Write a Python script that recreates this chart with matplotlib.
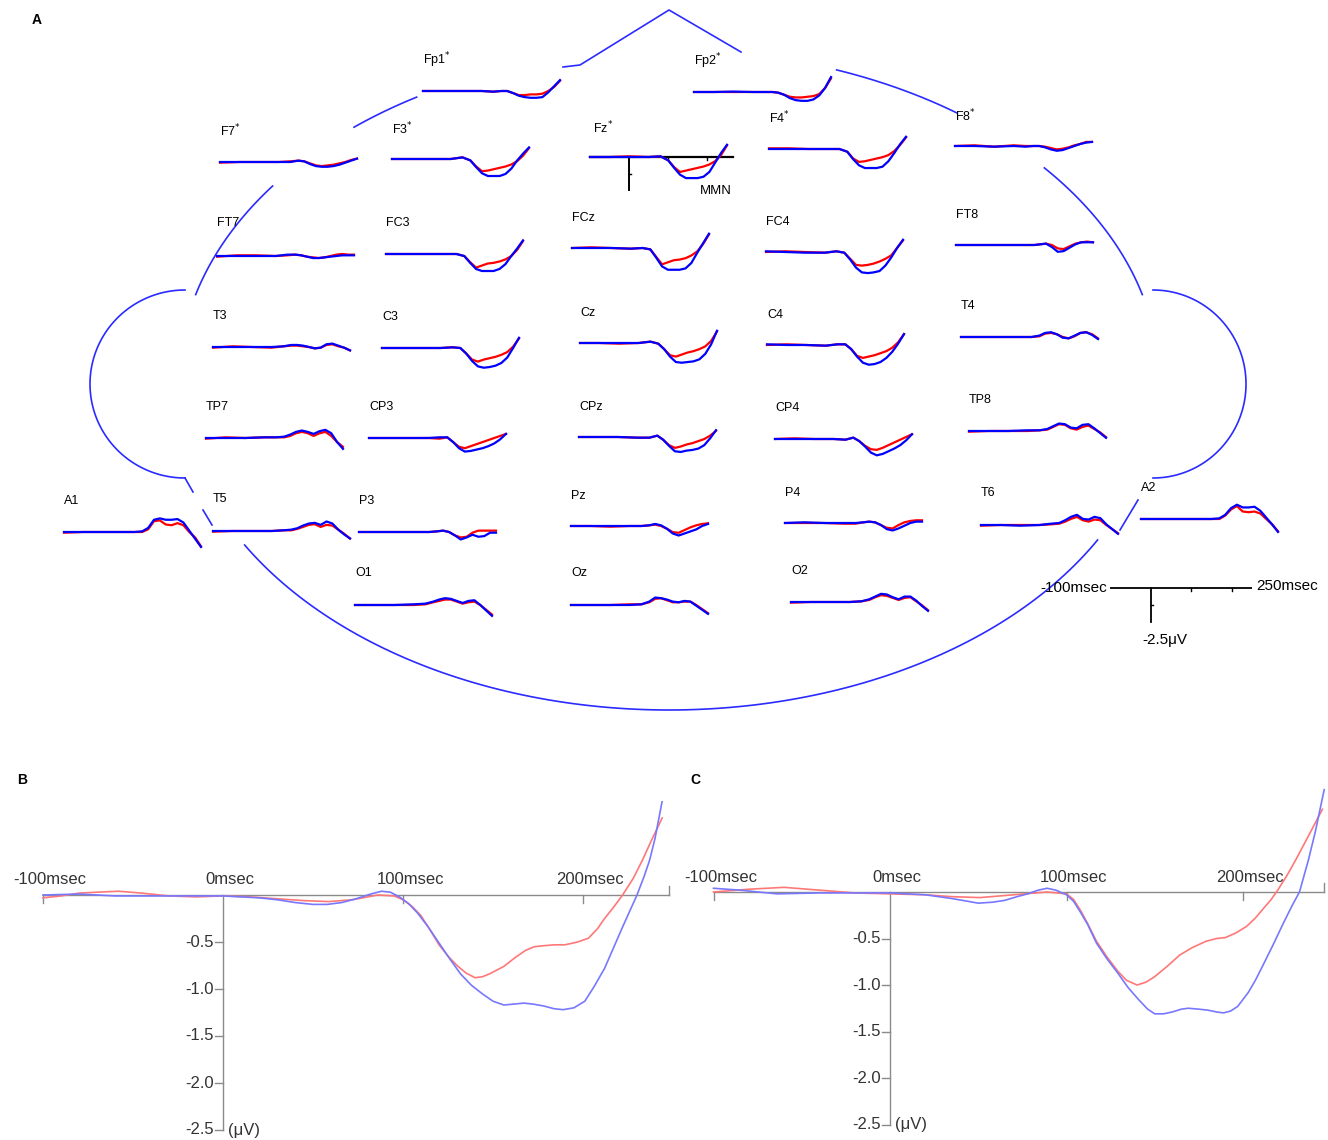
import numpy as np
import matplotlib
matplotlib.use("Agg")
import matplotlib.pyplot as plt

plt.rcParams['font.family'] = ['Liberation Sans', 'DejaVu Sans']

W, H = 1328, 1140
RED_A = '#ff0000'
BLUE_A = '#0000ff'
HEAD_C = '#2b2bff'
RED_B = '#ff7878'
BLUE_B = '#7878ff'
GRAY = '#8a8a8a'

# ---- panel A: topographic traces (uV), sampled at TOPO_T (msec) ----
TOPO_T = [-100, -50, 0, 50, 80, 100, 115, 130, 145, 160, 175, 190, 205, 220, 235, 250]

blue_waves = {
    'Fp1*': [0, 0, 0, 0, -0.05, 0, 0, -0.15, -0.35, -0.45, -0.5, -0.5, -0.45, -0.1, 0.35, 0.8],
    'Fp2*': [0, 0, 0.03, 0, 0, 0, -0.05, -0.2, -0.45, -0.6, -0.65, -0.65, -0.55, -0.25, 0.3, 1.1],
    'F7*': [0, 0, 0, 0, 0, 0.1, 0.05, -0.15, -0.3, -0.35, -0.35, -0.3, -0.2, -0.05, 0.1, 0.25],
    'F3*': [0, 0, 0, 0, 0.12, -0.1, -0.6, -1.05, -1.25, -1.25, -1.25, -1.1, -0.7, -0.1, 0.4, 0.85],
    'Fz*': [0, 0, 0, 0, 0.05, -0.25, -0.8, -1.3, -1.55, -1.55, -1.55, -1.45, -1.1, -0.4, 0.3, 0.9],
    'F4*': [0, 0, 0, 0, 0, -0.2, -0.75, -1.2, -1.4, -1.4, -1.4, -1.3, -0.9, -0.3, 0.35, 0.9],
    'F8*': [0, 0, -0.05, 0, -0.05, 0, 0, -0.1, -0.25, -0.35, -0.3, -0.15, 0.0, 0.15, 0.25, 0.3],
    'FT7': [0, 0, 0, 0, 0.1, 0.1, 0.05, -0.05, -0.15, -0.15, -0.1, -0.05, 0.0, 0.05, 0.05, 0.05],
    'FC3': [0, 0, 0, 0, 0, -0.15, -0.65, -1.1, -1.25, -1.25, -1.25, -1.1, -0.75, -0.15, 0.4, 1.0],
    'FCz': [0, 0, 0, -0.05, 0, -0.1, -0.7, -1.35, -1.6, -1.6, -1.6, -1.5, -1.1, -0.35, 0.35, 1.05],
    'FC4': [0.05, 0, -0.05, -0.05, 0.05, -0.05, -0.55, -1.15, -1.5, -1.55, -1.5, -1.4, -1.0, -0.4, 0.3, 0.9],
    'FT8': [0, 0, 0, 0, 0, 0, 0.05, 0.1, -0.15, -0.5, -0.45, -0.2, 0.05, 0.2, 0.2, 0.2],
    'T3': [0, 0, 0, 0, 0.05, 0.15, 0.15, 0.1, 0.0, -0.1, -0.05, 0.2, 0.25, 0.1, -0.05, -0.25],
    'C3': [0, 0, 0, 0, 0.05, 0, -0.4, -0.95, -1.35, -1.45, -1.4, -1.3, -1.1, -0.7, 0.0, 0.75],
    'Cz': [0, 0, 0, 0, 0.1, -0.05, -0.45, -1.0, -1.4, -1.45, -1.4, -1.35, -1.2, -0.8, -0.1, 0.9],
    'C4': [0.05, 0, 0, -0.05, 0.05, 0.05, -0.3, -0.85, -1.3, -1.45, -1.4, -1.25, -0.95, -0.5, 0.1, 0.8],
    'T4': [0, 0, 0, 0, 0, 0.1, 0.3, 0.35, 0.2, -0.05, -0.1, 0.1, 0.3, 0.35, 0.15, -0.15],
    'TP7': [0, 0, 0, 0.05, 0.05, 0.1, 0.25, 0.45, 0.55, 0.45, 0.3, 0.5, 0.6, 0.35, -0.3, -0.8],
    'CP3': [0, 0, 0, 0, 0.05, 0.05, -0.3, -0.75, -1.0, -0.95, -0.85, -0.75, -0.6, -0.4, -0.1, 0.3],
    'CPz': [0, 0, 0, -0.05, -0.05, 0.1, -0.2, -0.65, -1.05, -1.1, -1.0, -0.95, -0.85, -0.6, -0.1, 0.5],
    'CP4': [0, 0, 0, 0, -0.05, 0.1, -0.15, -0.55, -1.0, -1.2, -1.1, -0.9, -0.7, -0.45, -0.1, 0.35],
    'TP8': [0, 0, 0, 0.05, 0.05, 0.15, 0.35, 0.55, 0.5, 0.25, 0.2, 0.45, 0.5, 0.2, -0.15, -0.5],
    'A1': [0, 0, 0, 0, 0, 0.05, 0.3, 0.9, 1.0, 0.9, 0.9, 0.95, 0.7, 0.1, -0.5, -1.1],
    'T5': [0, 0, 0, 0, 0.05, 0.1, 0.2, 0.4, 0.55, 0.6, 0.45, 0.7, 0.55, 0.1, -0.25, -0.55],
    'P3': [0, 0, 0, 0, 0, 0.05, 0.1, 0.0, -0.25, -0.55, -0.4, -0.2, -0.35, -0.3, -0.05, -0.05],
    'Pz': [0, 0, 0, 0, 0, 0.05, 0.15, 0.05, -0.2, -0.55, -0.7, -0.55, -0.4, -0.25, 0.0, 0.15],
    'P4': [0, 0.05, 0, 0, 0, 0.05, 0.1, 0.05, -0.15, -0.45, -0.55, -0.4, -0.2, 0.0, 0.1, 0.1],
    'T6': [0, 0, -0.05, 0, 0.1, 0.15, 0.35, 0.6, 0.75, 0.45, 0.4, 0.6, 0.5, 0.05, -0.3, -0.65],
    'A2': [0, 0, 0, 0, 0, 0.05, 0.3, 0.8, 1.05, 0.85, 0.85, 0.9, 0.6, 0.1, -0.4, -0.95],
    'O1': [0, 0, 0, 0.05, 0.1, 0.25, 0.4, 0.5, 0.45, 0.3, 0.15, 0.3, 0.35, 0.0, -0.4, -0.8],
    'Oz': [0, 0, 0, 0, 0.05, 0.25, 0.55, 0.5, 0.4, 0.25, 0.2, 0.3, 0.25, -0.05, -0.35, -0.65],
    'O2': [0, 0, 0, 0, 0.05, 0.2, 0.4, 0.6, 0.55, 0.35, 0.2, 0.4, 0.4, 0.1, -0.3, -0.65],
}

red_waves = {
    'Fp1*': [0, 0, 0, 0, -0.05, 0, 0, -0.15, -0.3, -0.3, -0.25, -0.25, -0.2, 0.0, 0.3, 0.75],
    'Fp2*': [0, 0, 0, 0, 0, 0, -0.05, -0.2, -0.35, -0.4, -0.4, -0.35, -0.3, -0.15, 0.3, 1.0],
    'F7*': [-0.05, 0, 0, 0, 0.05, 0.1, 0.05, -0.1, -0.25, -0.3, -0.25, -0.2, -0.1, 0.0, 0.15, 0.25],
    'F3*': [0, 0, 0, 0, 0.12, -0.1, -0.55, -0.9, -0.85, -0.75, -0.65, -0.55, -0.4, -0.15, 0.25, 0.8],
    'Fz*': [0, 0, 0.05, 0, 0.05, -0.25, -0.75, -1.1, -1.0, -0.9, -0.8, -0.7, -0.55, -0.3, 0.15, 0.85],
    'F4*': [0.05, 0.05, 0, 0, 0, -0.2, -0.7, -0.95, -0.9, -0.8, -0.7, -0.6, -0.45, -0.15, 0.3, 0.85],
    'F8*': [0, 0.05, -0.05, 0.05, 0, 0, 0, -0.05, -0.15, -0.25, -0.2, -0.1, 0.05, 0.15, 0.3, 0.3],
    'FT7': [-0.05, 0.05, 0.05, 0, 0.05, 0.1, 0.05, -0.05, -0.1, -0.15, -0.1, 0.0, 0.1, 0.15, 0.1, 0.1],
    'FC3': [0, 0, 0, 0, 0, -0.15, -0.6, -1.0, -0.85, -0.7, -0.65, -0.55, -0.4, -0.15, 0.3, 0.95],
    'FCz': [0, 0.05, 0, -0.05, 0, -0.1, -0.65, -1.2, -1.05, -0.9, -0.85, -0.75, -0.55, -0.25, 0.3, 1.0],
    'FC4': [0, 0.05, 0, -0.05, 0.05, -0.05, -0.5, -0.95, -1.0, -0.95, -0.85, -0.7, -0.5, -0.25, 0.3, 0.85],
    'FT8': [0, 0, 0, 0, 0, 0, 0.05, 0.1, 0.0, -0.25, -0.3, -0.1, 0.1, 0.2, 0.25, 0.2],
    'T3': [-0.05, 0.05, 0, -0.05, 0.05, 0.1, 0.1, 0.05, 0.0, -0.1, -0.05, 0.15, 0.2, 0.05, -0.05, -0.25],
    'C3': [0, 0, 0, 0, 0.05, 0, -0.4, -0.85, -1.0, -0.85, -0.75, -0.65, -0.5, -0.3, 0.1, 0.7],
    'Cz': [0, 0, -0.05, 0, 0.1, -0.05, -0.45, -0.9, -1.0, -0.85, -0.7, -0.6, -0.45, -0.25, 0.15, 0.85],
    'C4': [0, 0.05, 0, -0.05, 0.05, 0.05, -0.3, -0.8, -0.95, -0.85, -0.75, -0.6, -0.45, -0.2, 0.2, 0.8],
    'T4': [0, 0, 0, 0, 0, 0.05, 0.25, 0.3, 0.2, 0.0, -0.1, 0.05, 0.3, 0.35, 0.2, -0.1],
    'TP7': [-0.05, 0.05, 0, 0.05, 0.05, 0.05, 0.15, 0.35, 0.45, 0.35, 0.15, 0.35, 0.45, 0.15, -0.3, -0.65],
    'CP3': [0, 0, 0, 0, -0.05, 0.05, -0.3, -0.65, -0.75, -0.6, -0.45, -0.3, -0.15, 0.0, 0.15, 0.3],
    'CPz': [0, 0, 0, -0.05, -0.05, 0.1, -0.2, -0.6, -0.8, -0.7, -0.55, -0.45, -0.3, -0.15, 0.1, 0.45],
    'CP4': [0, 0.05, 0, 0, -0.05, 0.1, -0.15, -0.5, -0.75, -0.8, -0.65, -0.45, -0.25, -0.05, 0.15, 0.35],
    'TP8': [-0.05, 0, 0, 0, 0.05, 0.1, 0.3, 0.5, 0.45, 0.2, 0.1, 0.3, 0.4, 0.15, -0.1, -0.45],
    'A1': [-0.05, 0, 0, 0, 0, 0, 0.2, 0.8, 0.85, 0.55, 0.5, 0.65, 0.5, 0.0, -0.4, -1.05],
    'T5': [-0.05, 0, 0, 0, 0.05, 0.05, 0.15, 0.3, 0.45, 0.5, 0.3, 0.45, 0.4, 0.1, -0.2, -0.55],
    'P3': [0, 0, 0, 0, 0, 0.05, 0.1, 0.0, -0.25, -0.4, -0.35, -0.05, 0.1, 0.1, 0.1, 0.1],
    'Pz': [0, 0, -0.05, 0, 0, 0.05, 0.1, 0.0, -0.2, -0.45, -0.5, -0.3, -0.1, 0.05, 0.15, 0.2],
    'P4': [0, 0, 0, -0.05, -0.05, 0.05, 0.1, 0.05, -0.15, -0.35, -0.4, -0.15, 0.05, 0.15, 0.2, 0.2],
    'T6': [-0.05, 0, 0, 0, 0.05, 0.1, 0.25, 0.45, 0.6, 0.35, 0.25, 0.4, 0.35, 0.0, -0.3, -0.6],
    'A2': [0, 0, 0, 0, 0, 0, 0.25, 0.7, 0.95, 0.55, 0.5, 0.55, 0.4, 0.0, -0.4, -0.9],
    'O1': [0, 0, 0, 0.0, 0.05, 0.2, 0.3, 0.4, 0.4, 0.25, 0.1, 0.2, 0.25, 0.0, -0.35, -0.7],
    'Oz': [0, 0, 0, 0.05, 0.05, 0.2, 0.45, 0.5, 0.35, 0.2, 0.2, 0.25, 0.25, 0.0, -0.3, -0.6],
    'O2': [-0.05, 0, 0, 0, 0.05, 0.15, 0.35, 0.5, 0.45, 0.3, 0.15, 0.3, 0.35, 0.05, -0.25, -0.6],
}

# layout of panel A in pixels: label (x, y) and trace start (x, baseline y)
label_pos = {
    'Fp1*': (423, 60), 'Fp2*': (694, 61), 'F7*': (220, 131), 'F3*': (392, 129),
    'Fz*': (593, 128), 'F4*': (769, 118), 'F8*': (955, 116), 'FT7': (217, 223),
    'FC3': (386, 223), 'FCz': (572, 218), 'FC4': (766, 222), 'FT8': (956, 215),
    'T3': (213, 316), 'C3': (382, 317), 'Cz': (580, 313), 'C4': (767, 315),
    'T4': (961, 306), 'TP7': (206, 407), 'CP3': (369, 407), 'CPz': (579, 407),
    'CP4': (775, 408), 'TP8': (969, 400), 'A1': (64, 501), 'T5': (213, 499),
    'P3': (359, 501), 'Pz': (571, 496), 'P4': (785, 493), 'T6': (981, 493),
    'A2': (1141, 488), 'O1': (355, 573), 'Oz': (571, 573), 'O2': (791, 571),
}
trace_pos = {
    'Fp1*': (423, 91), 'Fp2*': (694, 92), 'F7*': (220, 162), 'F3*': (392, 159),
    'Fz*': (590, 157), 'F4*': (769, 149), 'F8*': (955, 146), 'FT7': (217, 256),
    'FC3': (386, 254), 'FCz': (572, 248), 'FC4': (766, 252), 'FT8': (956, 245),
    'T3': (213, 347), 'C3': (382, 348), 'Cz': (580, 343), 'C4': (767, 345),
    'T4': (961, 337), 'TP7': (206, 438), 'CP3': (369, 438), 'CPz': (579, 437),
    'CP4': (775, 439), 'TP8': (969, 431), 'A1': (64, 532), 'T5': (213, 531),
    'P3': (359, 532), 'Pz': (571, 526), 'P4': (785, 523), 'T6': (981, 525),
    'A2': (1141, 519), 'O1': (355, 605), 'Oz': (571, 605), 'O2': (791, 602),
}

# ---- panels B and C: grand averages (msec, uV) ----
b_blue_t = [-100, -80, -60, -40, -20, 0, 10, 20, 30, 40, 50, 58, 66, 74, 82, 88, 93, 98, 103, 108,
            114, 120, 126, 132, 138, 144, 150, 156, 162, 167, 172, 178, 184, 189, 195, 201, 206, 212,
            217, 222, 226, 230, 234, 237, 240, 244]
b_blue_v = [0.0, 0.01, -0.01, -0.01, -0.01, -0.01, -0.02, -0.03, -0.05, -0.08, -0.1, -0.1, -0.08,
            -0.04, 0.01, 0.04, 0.03, -0.02, -0.09, -0.19, -0.34, -0.51, -0.68, -0.84, -0.96, -1.05,
            -1.13, -1.17, -1.16, -1.15, -1.16, -1.18, -1.21, -1.22, -1.2, -1.13, -0.98, -0.78, -0.56,
            -0.34, -0.17, 0.0, 0.2, 0.37, 0.6, 1.0]
b_red_t = [-100, -90, -80, -70, -58, -45, -30, -15, 0, 15, 30, 45, 59, 72, 86, 95, 100, 105, 110,
           115, 120, 125, 130, 135, 140, 144, 148, 152, 156, 162, 168, 173, 178, 184, 190, 197, 203,
           208, 212, 217, 222, 228, 233, 238, 244]
b_red_v = [-0.03, -0.01, 0.02, 0.03, 0.04, 0.02, -0.01, -0.02, -0.01, -0.02, -0.04, -0.06, -0.07,
           -0.05, 0.0, -0.01, -0.05, -0.12, -0.22, -0.37, -0.53, -0.65, -0.75, -0.83, -0.88, -0.87,
           -0.84, -0.8, -0.76, -0.67, -0.59, -0.55, -0.54, -0.53, -0.53, -0.5, -0.46, -0.36, -0.25,
           -0.13, 0.0, 0.18, 0.37, 0.58, 0.82]

c_blue_t = [-100, -85, -64, -40, -20, 0, 20, 35, 50, 58, 65, 72, 78, 84, 89, 94, 100, 104, 108, 112,
            117, 123, 129, 135, 141, 146, 150, 155, 160, 165, 169, 175, 180, 185, 189, 193, 197, 203,
            207, 211, 217, 223, 228, 232, 237, 241, 246]
c_blue_v = [0.04, 0.02, -0.02, -0.01, -0.01, -0.01, -0.03, -0.07, -0.12, -0.11, -0.09, -0.05, -0.02,
            0.02, 0.04, 0.02, -0.03, -0.1, -0.22, -0.35, -0.55, -0.72, -0.87, -1.03, -1.16, -1.26,
            -1.31, -1.31, -1.29, -1.26, -1.25, -1.26, -1.27, -1.29, -1.3, -1.28, -1.23, -1.08, -0.95,
            -0.8, -0.57, -0.33, -0.14, 0.0, 0.34, 0.65, 1.1]
c_red_t = [-100, -80, -60, -40, -20, 0, 20, 35, 51, 70, 89, 100, 104, 108, 112, 117, 123, 129, 134,
           140, 145, 150, 157, 164, 171, 179, 185, 190, 196, 202, 207, 211, 216, 220, 225, 230, 237,
           245]
c_red_v = [0.0, 0.03, 0.05, 0.02, -0.01, -0.02, -0.03, -0.05, -0.06, -0.03, 0.0, -0.02, -0.08, -0.2,
           -0.34, -0.53, -0.7, -0.85, -0.95, -1.0, -0.97, -0.91, -0.8, -0.68, -0.6, -0.53, -0.5,
           -0.49, -0.44, -0.37, -0.28, -0.19, -0.08, 0.03, 0.18, 0.35, 0.6, 0.89]

Y_TICKS = [-0.5, -1.0, -1.5, -2.0, -2.5]
X_TICKS = [-100, 100, 200]
X_LABELS = {-100: '-100msec', 0: '0msec', 100: '100msec', 200: '200msec'}

TRACE_W = 137
PX_PER_UV = 13.6
HALF_H = 45


def px_axes(fig, x0, y_top, w, h):
    return fig.add_axes([x0 / W, 1 - (y_top + h) / H, w / W, h / H])


fig = plt.figure(figsize=(W / 100, H / 100), dpi=100)

# overlay in pixel coordinates for the head outline and labels
ov = fig.add_axes([0, 0, 1, 1])
ov.set_xlim(0, W)
ov.set_ylim(H, 0)
ov.axis('off')

cx, cy, a, b = 669, 380, 490, 330
for s, e in [(-130, -121), (-70, -54), (-40, -15), (29, 150), (-165, -144)]:
    th = np.radians(np.linspace(s, e, 120))
    ov.plot(cx + a * np.cos(th), cy + b * np.sin(th), color=HEAD_C, lw=1.2)
# short pieces of the outline around A1 / A2
for xs, ys in [([185, 193], [478, 492]), ([203, 212], [510, 525]), ([1138, 1120], [500, 530])]:
    ov.plot(xs, ys, color=HEAD_C, lw=1.2)
# ears
th = np.radians(np.linspace(90, 270, 120))
ov.plot(185 + 95 * np.cos(th), 384 + 94 * np.sin(th), color=HEAD_C, lw=1.2)
th = np.radians(np.linspace(-90, 90, 120))
ov.plot(1153 + 93 * np.cos(th), 384 + 94 * np.sin(th), color=HEAD_C, lw=1.2)
# nose
ov.plot([563, 580, 669, 741], [67, 65, 10, 52], color=HEAD_C, lw=1.2)

ov.text(37, 20, 'A', fontsize=10, fontweight='bold', va='center', ha='center')
ov.text(22, 780, 'B', fontsize=10, fontweight='bold', va='center', ha='center')
ov.text(695, 780, 'C', fontsize=10, fontweight='bold', va='center', ha='center')

for name in blue_waves:
    lx, ly = label_pos[name]
    ov.text(lx, ly, name.replace('*', r'$^{*}$'), fontsize=9, va='center', ha='left')
    x0, y0 = trace_pos[name]
    ax = px_axes(fig, x0, y0 - HALF_H, TRACE_W, 2 * HALF_H)
    ax.set_xlim(-100, 250)
    ax.set_ylim(-HALF_H / PX_PER_UV, HALF_H / PX_PER_UV)
    ax.axis('off')
    if name == 'Fz*':
        ax.plot([-100, 265], [0, 0], color='k', lw=1.6, clip_on=False)
        ax.plot([0, 0], [0, -2.45], color='k', lw=1.4, clip_on=False)
        ax.plot([0, 6], [-1.25, -1.25], color='k', lw=1.0, clip_on=False)
        for t in [100, 200]:
            ax.plot([t, t], [0, -0.25], color='k', lw=1.0, clip_on=False)
    ax.plot(TOPO_T, red_waves[name], color=RED_A, lw=1.6, clip_on=False)
    ax.plot(TOPO_T, blue_waves[name], color=BLUE_A, lw=1.6, clip_on=False)

ov.text(700, 191, 'MMN', fontsize=9.5, va='center', ha='left')

# calibration bar
cal = px_axes(fig, 1110, 588 - HALF_H, 142, 2 * HALF_H)
cal.set_xlim(-100, 250)
cal.set_ylim(-HALF_H / PX_PER_UV, HALF_H / PX_PER_UV)
cal.axis('off')
cal.plot([-100, 250], [0, 0], color='k', lw=1.3)
cal.plot([0, 0], [0, -2.5], color='k', lw=1.3)
cal.plot([0, 5], [-1.25, -1.25], color='k', lw=1.0)
for t in [100, 200]:
    cal.plot([t, t], [0, -0.2], color='k', lw=1.0)
ov.text(1107, 588, '-100msec', fontsize=11, ha='right', va='center')
ov.text(1256, 586, '250msec', fontsize=11, ha='left', va='center')
ov.text(1165, 640, '-2.5\u03bcV', fontsize=11, ha='center', va='center')


def erp_panel(x_left, y_top, w, h, xlim, ylim, x_end, red_t, red_v, blue_t, blue_v):
    ax = px_axes(fig, x_left, y_top, w, h)
    ax.set_xlim(*xlim)
    ax.set_ylim(*ylim)
    ax.axis('off')
    ax.plot([-100, x_end], [0, 0], color=GRAY, lw=1.0)
    ax.plot([0, 0], [0, -2.5], color=GRAY, lw=1.0)
    for t in X_TICKS:
        ax.plot([t, t], [0, -0.09], color=GRAY, lw=1.0)
    ax.plot([x_end, x_end], [0, 0.1], color=GRAY, lw=1.0)
    for v in Y_TICKS:
        ax.plot([-4.5, 0], [v, v], color=GRAY, lw=1.0)
        ax.text(-5, v, f'{v:.1f}', fontsize=12, ha='right', va='center', color='#333333')
    for t, lab in X_LABELS.items():
        ax.text(t + 4, 0.08, lab, fontsize=12, ha='center', va='bottom', color='#333333')
    ax.text(3, -2.5, '(\u03bcV)', fontsize=12, ha='left', va='center', color='#333333')
    ax.plot(red_t, red_v, color=RED_B, lw=1.2)
    ax.plot(blue_t, blue_v, color=BLUE_B, lw=1.2)
    return ax


# panel B: 0 ms at x=223 px, 1.8 px/ms; 0 uV at y=895, 94 px/uV
erp_panel(223 - 112 * 1.8, 895 - 1.0 * 94, 364 * 1.8, 3.6 * 94,
          (-112, 252), (-2.6, 1.0), 248, b_red_t, b_red_v, b_blue_t, b_blue_v)
# panel C: 0 ms at x=890 px, 1.765 px/ms; 0 uV at y=892, 93 px/uV
erp_panel(890 - 112 * 1.765, 892 - 1.12 * 93, 360 * 1.765, 3.72 * 93,
          (-112, 248), (-2.6, 1.12), 246, c_red_t, c_red_v, c_blue_t, c_blue_v)

fig.savefig('out.png', dpi=100)
